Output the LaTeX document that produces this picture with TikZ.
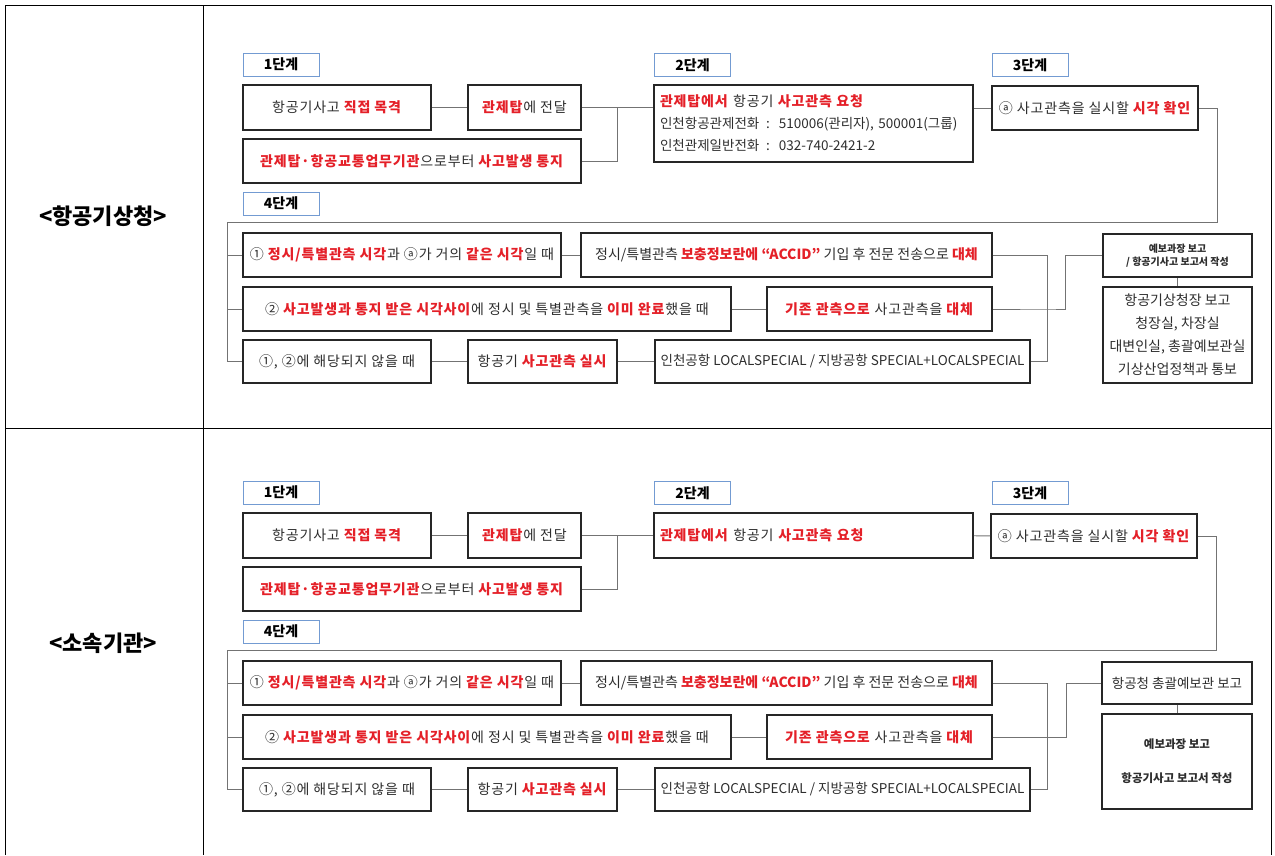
\documentclass[tikz,border=0pt]{standalone}
\usepackage{fontspec}
\setmainfont{Noto Sans CJK KR}
\definecolor{hotred}{RGB}{228,32,40}
\definecolor{stageblue}{RGB}{115,155,210}
\definecolor{ink}{RGB}{45,45,45}
\newcommand{\emred}[1]{\textcolor{hotred}{\textbf{#1}}}
\newcommand{\wide}{\addfontfeature{LetterSpace=6}}
\tikzset{
  stage/.style={draw=stageblue, line width=1pt, minimum width=76pt, minimum height=23pt,
    inner sep=0pt, font=\fontsize{14}{16}\selectfont\bfseries},
  flow/.style={draw=black!85, line width=1.6pt, inner sep=3pt, text=ink,
    font=\fontsize{14}{17}\selectfont\wide},
  link/.style={draw=black!55, line width=0.9pt},
  rule/.style={draw=black, line width=0.9pt},
  org/.style={font=\fontsize{22}{24}\selectfont\bfseries},
}
\begin{document}
\begin{tikzpicture}[x=1pt, y=-1pt]
  \useasboundingbox (0,0) rectangle (1275,855);
  % Tabelle
  \draw [rule] (5,855) -- (5,5) -- (1271,5) -- (1271,855);
  \draw [rule] (203,5) -- (203,855);
  \draw [rule] (5,428) -- (1271,428);
  \node [org] (orgA) at (103,216) {<항공기상청>};
  \node [org] (orgB) at (103,643) {<소속기관>};

  % ---- oben: 항공기상청 ----
  \node [stage] (sA1) at (281,64.5)  {1단계};
  \node [stage] (sA2) at (692.5,65)  {2단계};
  \node [stage] (sA3) at (1030,65)   {3단계};
  \node [stage] (sA4) at (281,203.5) {4단계};
  \node [flow, minimum width=188pt, minimum height=45pt] (a11) at (337,107.5) {항공기사고 \emred{직접 목격}};
  \node [flow, minimum width=113pt, minimum height=45pt] (a12) at (524.5,107.5) {\emred{관제탑}에 전달};
  \node [flow, minimum width=338pt, minimum height=44pt] (a13) at (412,161) {\emred{관제탑·항공교통업무기관}으로부터 \emred{사고발생 통지}};
  \node [flow, minimum width=319pt, minimum height=77pt, align=left, text width=307pt,
         font=\fontsize{13.5}{22}\selectfont] (a2) at (813.5,123.5)
        {{\fontsize{14}{22}\selectfont\wide\emred{관제탑에서} 항공기 \emred{사고관측 요청}}\\
         인천항공관제전화 \,:\, 510006(관리자), 500001(그룹)\\
         인천관제일반전화 \,:\, 032-740-2421-2};
  \node [flow, minimum width=206pt, minimum height=44pt] (a3) at (1095,108) {ⓐ 사고관측을 실시할 \emred{시각 확인}};
  \node [flow, minimum width=318pt, minimum height=44pt] (aR11) at (402,255) {① \emred{정시/특별관측 시각}과 ⓐ가 거의 \emred{같은 시각}일 때};
  \node [flow, minimum width=411pt, minimum height=44pt, font=\fontsize{14}{17}\selectfont] (aR12) at (786.5,255) {정시/특별관측 \emred{보충정보란에 “ACCID”} 기입 후 전문 전송으로 \emred{대체}};
  \node [flow, minimum width=488pt, minimum height=44pt] (aR21) at (487,309) {② \emred{사고발생과 통지 받은 시각사이}에 정시 및 특별관측을 \emred{이미 완료}했을 때};
  \node [flow, minimum width=225pt, minimum height=44pt] (aR22) at (879.5,309) {\emred{기존 관측으로} 사고관측을 \emred{대체}};
  \node [flow, minimum width=188pt, minimum height=43pt] (aR31) at (337,361.5) {①, ②에 해당되지 않을 때};
  \node [flow, minimum width=149pt, minimum height=43pt] (aR32) at (542.5,361.5) {항공기 \emred{사고관측 실시}};
  \node [flow, minimum width=375pt, minimum height=43pt, font=\fontsize{13.5}{16}\selectfont] (aR33) at (842.5,361.5) {인천공항 LOCALSPECIAL / 지방공항 SPECIAL+LOCALSPECIAL};
  \node [flow, minimum width=149pt, minimum height=43pt, align=center, font=\fontsize{10}{12.5}\selectfont\bfseries] (aE1) at (1177.5,255.5) {예보과장 보고\\/ 항공기사고 보고서 작성};
  \node [flow, minimum width=149pt, minimum height=96pt, align=center, inner sep=1pt,
         font=\fontsize{14}{23}\selectfont] (aE2) at (1177.5,335)
        {항공기상청장 보고\\청장실, 차장실\\대변인실, 총괄예보관실\\기상산업정책과 통보};
  % Verbindungen
  \coordinate (aJ) at (617,107.5);
  \coordinate (aK) at (227,222);
  \coordinate (aM) at (1047,309);
  \draw [link] (a11) -- (a12);
  \draw [link] (a12) -- (aJ) -- (aJ -| a2.west);
  \draw [link] (a13.east) -| (aJ);
  \draw [link] (a3.west -| a2.east) -- (a3.west);
  \draw [link] (a3.east) -- ++(19,0) |- (aK) |- (aR31.west);
  \draw [link] (aK |- aR11.west) -- (aR11.west);
  \draw [link] (aK |- aR21.west) -- (aR21.west);
  \draw [link] (aR11) -- (aR12);
  \draw [link] (aR21) -- (aR22);
  \draw [link] (aR31) -- (aR32);
  \draw [link] (aR32) -- (aR33);
  \draw [link] (aR12.east) -| (aM |- aR33.east) -- (aR33.east);
  \draw [link] (aR22.east) -- (aM) -- ++(18,0) |- (aE1.west);
  \draw [link] (aE1) -- (aE2);

  % ---- unten: 소속기관 ----
  \node [stage] (sB1) at (281,492.5)  {1단계};
  \node [stage] (sB2) at (692.5,493)  {2단계};
  \node [stage] (sB3) at (1030,493)   {3단계};
  \node [stage] (sB4) at (281,631.5)  {4단계};
  \node [flow, minimum width=188pt, minimum height=45pt] (b11) at (337,535.5) {항공기사고 \emred{직접 목격}};
  \node [flow, minimum width=113pt, minimum height=45pt] (b12) at (524.5,535.5) {\emred{관제탑}에 전달};
  \node [flow, minimum width=338pt, minimum height=44pt] (b13) at (412,589) {\emred{관제탑·항공교통업무기관}으로부터 \emred{사고발생 통지}};
  \node [flow, minimum width=319pt, minimum height=45pt, align=left, text width=307pt] (b2) at (813.5,535.5)
        {\emred{관제탑에서} 항공기 \emred{사고관측 요청}};
  \node [flow, minimum width=206pt, minimum height=44pt] (b3) at (1094,536) {ⓐ 사고관측을 실시할 \emred{시각 확인}};
  \node [flow, minimum width=318pt, minimum height=44pt] (bR11) at (402,683) {① \emred{정시/특별관측 시각}과 ⓐ가 거의 \emred{같은 시각}일 때};
  \node [flow, minimum width=411pt, minimum height=44pt, font=\fontsize{14}{17}\selectfont] (bR12) at (786.5,683) {정시/특별관측 \emred{보충정보란에 “ACCID”} 기입 후 전문 전송으로 \emred{대체}};
  \node [flow, minimum width=488pt, minimum height=44pt] (bR21) at (487,737) {② \emred{사고발생과 통지 받은 시각사이}에 정시 및 특별관측을 \emred{이미 완료}했을 때};
  \node [flow, minimum width=225pt, minimum height=44pt] (bR22) at (879.5,737) {\emred{기존 관측으로} 사고관측을 \emred{대체}};
  \node [flow, minimum width=188pt, minimum height=43pt] (bR31) at (337,789.5) {①, ②에 해당되지 않을 때};
  \node [flow, minimum width=149pt, minimum height=43pt] (bR32) at (542.5,789.5) {항공기 \emred{사고관측 실시}};
  \node [flow, minimum width=375pt, minimum height=43pt, font=\fontsize{13.5}{16}\selectfont] (bR33) at (842.5,789.5) {인천공항 LOCALSPECIAL / 지방공항 SPECIAL+LOCALSPECIAL};
  \node [flow, minimum width=150pt, minimum height=42pt, inner sep=1pt, font=\fontsize{13.5}{16}\selectfont] (bE1) at (1177,683) {항공청 총괄예보관 보고};
  \node [flow, minimum width=150pt, minimum height=95pt, align=center, font=\fontsize{11.5}{14}\selectfont\bfseries] (bE2) at (1177,761.5)
        {예보과장 보고\\[20pt]항공기사고 보고서 작성};
  % Verbindungen
  \coordinate (bJ) at (617,535.5);
  \coordinate (bK) at (227,650);
  \coordinate (bM) at (1047,737);
  \draw [link] (b11) -- (b12);
  \draw [link] (b12) -- (bJ) -- (b2.west);
  \draw [link] (b13.east) -| (bJ);
  \draw [link] (b2) -- (b3);
  \draw [link] (b3.east) -- ++(19,0) |- (bK) |- (bR31.west);
  \draw [link] (bK |- bR11.west) -- (bR11.west);
  \draw [link] (bK |- bR21.west) -- (bR21.west);
  \draw [link] (bR11) -- (bR12);
  \draw [link] (bR21) -- (bR22);
  \draw [link] (bR31) -- (bR32);
  \draw [link] (bR32) -- (bR33);
  \draw [link] (bR12.east) -| (bM |- bR33.east) -- (bR33.east);
  \draw [link] (bR22.east) -- (bM) -- ++(19,0) |- (bE1.west);
  \draw [link] (bE1) -- (bE2);
\end{tikzpicture}
\end{document}
